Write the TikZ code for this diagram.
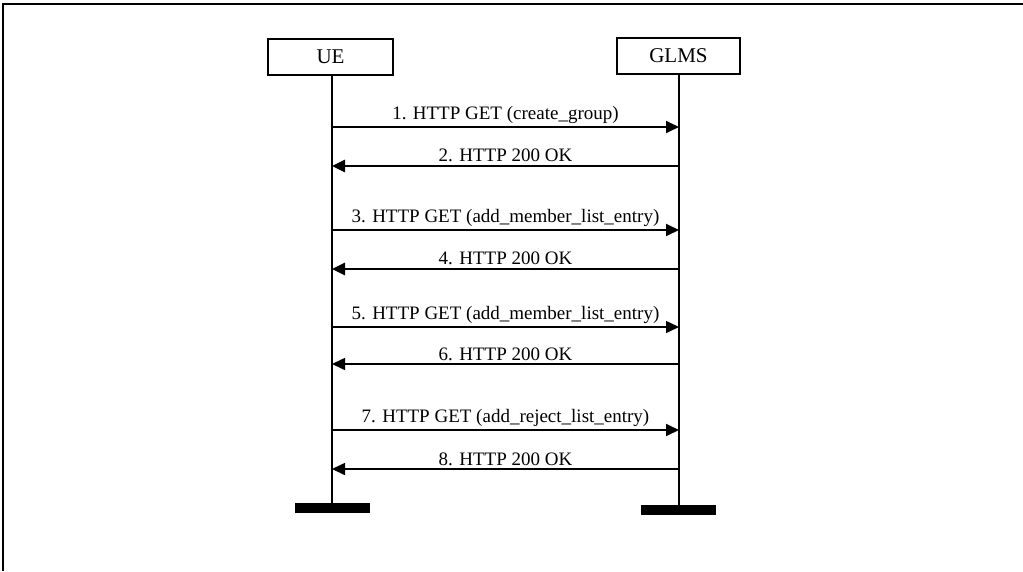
\documentclass[tikz,border=0pt]{standalone}
\usepackage{fontspec}
\setmainfont{Liberation Serif}
\usetikzlibrary{arrows.meta}
\begin{document}
\begin{tikzpicture}[x=1pt,y=-1pt,
  entity/.style={draw,line width=2pt,minimum height=36pt,inner sep=0pt,font=\fontsize{21}{25}\selectfont},
  lifeline/.style={line width=1.8pt},
  endbar/.style={fill=black,draw=none,minimum width=75pt,minimum height=10pt,inner sep=0pt},
  msg/.style={-{Triangle[length=13pt,width=12pt]}},
  lbl/.style={above=2.5pt,inner sep=0pt,font=\fontsize{19}{23}\selectfont}]
\useasboundingbox (0,0) rectangle (1023,571);
% frame
\draw[line width=1.4pt] (3,571) -- (3,4) -- (1023,4);
% entities
\node[entity,minimum width=125pt] (ue) at (330.5,57) {UE};
\node[entity,minimum width=123pt] (glms) at (678.5,55.5) {GLMS};
% end bars
\node[endbar] (ueend) at (332.5,508) {};
\node[endbar] (glmsend) at (678.5,510) {};
% lifelines
\draw[lifeline] (ue.south -| 332,0) -- (ueend.north -| 332,0);
\draw[lifeline] (glms.south -| 679,0) -- (glmsend.north -| 679,0);
% message anchor points
\foreach \i/\y in {1/127,2/166,3/230,4/269,5/327,6/364,7/430,8/469}{
  \coordinate (u\i) at (332,\y);
  \coordinate (g\i) at (679,\y);
}
% messages
\draw[msg,line width=1.7pt] (u1) -- (g1) node[midway,lbl] {1. HTTP GET (create\_group)};
\draw[msg,line width=2.6pt] (g2) -- (u2) node[midway,lbl] {2. HTTP 200 OK};
\draw[msg,line width=1.9pt] (u3) -- (g3) node[midway,lbl] {3. HTTP GET (add\_member\_list\_entry)};
\draw[msg,line width=2.6pt] (g4) -- (u4) node[midway,lbl] {4. HTTP 200 OK};
\draw[msg,line width=1.6pt] (u5) -- (g5) node[midway,lbl] {5. HTTP GET (add\_member\_list\_entry)};
\draw[msg,line width=1.6pt] (g6) -- (u6) node[midway,lbl] {6. HTTP 200 OK};
\draw[msg,line width=1.8pt] (u7) -- (g7) node[midway,lbl] {7. HTTP GET (add\_reject\_list\_entry)};
\draw[msg,line width=1.6pt] (g8) -- (u8) node[midway,lbl] {8. HTTP 200 OK};
\end{tikzpicture}
\end{document}
